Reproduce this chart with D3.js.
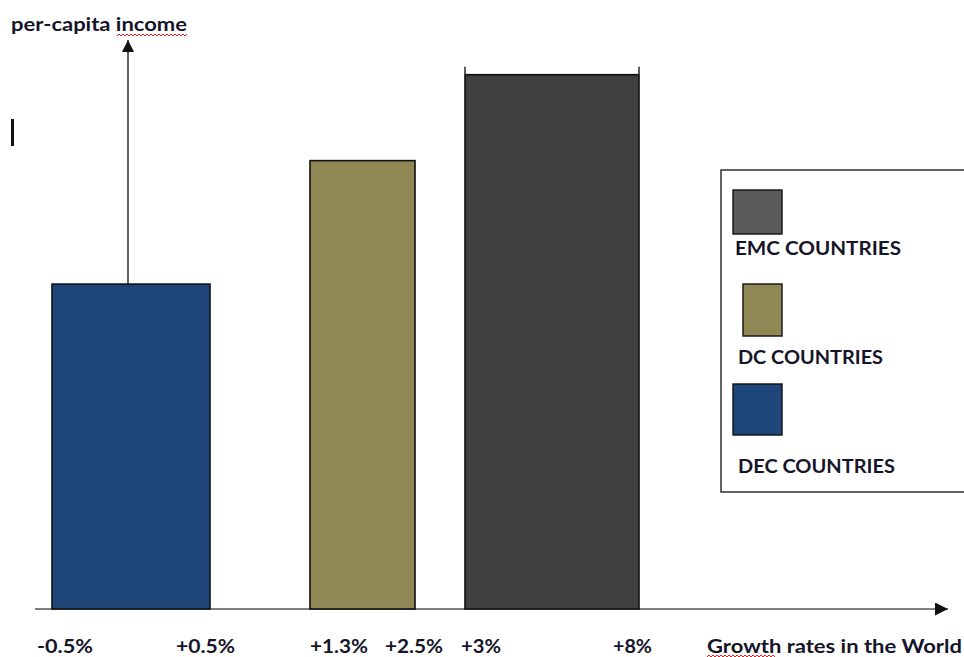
<!DOCTYPE html>
<html><head><meta charset="utf-8">
<script src="https://cdn.jsdelivr.net/npm/d3@7"></script>
<style>html,body{margin:0;padding:0;background:#fff;}svg{display:block;}</style>
</head><body>
<script>
// ---- data ----
const categories = ["DEC COUNTRIES", "DC COUNTRIES", "EMC COUNTRIES"];
const rangeStart = [-0.5, 1.3, 3];
const rangeEnd = [0.5, 2.5, 8];
const incomeValues = [57.1, 78.8, 93.9];
const tickValues = [-0.5, 0.5, 1.3, 2.5, 3, 8];
const tickLabels = ["-0.5%", "+0.5%", "+1.3%", "+2.5%", "+3%", "+8%"];
const yTitle = "per-capita income";
const xTitle = "Growth rates in the World";

(function () {
const W = 964, H = 657;
const barColor = d3.scaleOrdinal().domain(categories).range(["#1F4678", "#8F8754", "#404040"]);
const legendColor = d3.scaleOrdinal().domain(categories).range(["#1F4678", "#8F8754", "#595959"]);
const textColor = "#15152a";
const font = "Lato, 'Open Sans', sans-serif";
const fs = 19.5;
// rendered text widths (layout)
const tickW = [56, 59, 58, 58, 40, 39];

const svg = d3.select("body").append("svg").attr("width", W).attr("height", H);

// piecewise (non-uniform) growth-rate scale as drawn in the source sketch
const x = d3.scaleLinear().domain(tickValues).range([52, 210, 310, 415, 465, 639]);
const xLabel = d3.scaleLinear().domain(tickValues).range([65, 205.5, 339, 414, 481, 632.5]);
const y = d3.scaleLinear().domain([0, 100]).range([609, 40]);

const defs = svg.append("defs");
defs.append("marker").attr("id", "arr").attr("viewBox", "0 0 10 10")
  .attr("refX", 10).attr("refY", 5).attr("markerWidth", 12).attr("markerHeight", 12)
  .attr("markerUnits", "userSpaceOnUse").attr("orient", "auto")
  .append("path").attr("d", "M0,0L10,5L0,10Z").attr("fill", "#111");
defs.append("marker").attr("id", "arrx").attr("viewBox", "0 0 10 10")
  .attr("refX", 10).attr("refY", 5).attr("markerWidth", 13).attr("markerHeight", 13)
  .attr("markerUnits", "userSpaceOnUse").attr("orient", "auto")
  .append("path").attr("d", "M0,0L10,5L0,10Z").attr("fill", "#111");

svg.append("line").attr("x1", 128).attr("x2", 128).attr("y1", y(0)).attr("y2", y(100))
  .attr("stroke", "#222").attr("stroke-width", 1.4).attr("marker-end", "url(#arr)");
svg.append("line").attr("x1", 35).attr("x2", 948).attr("y1", y(0)).attr("y2", y(0))
  .attr("stroke", "#555").attr("stroke-width", 1.6).attr("marker-end", "url(#arrx)");

const bars = categories.map((c, i) => ({c, s: rangeStart[i], e: rangeEnd[i], v: incomeValues[i]}));
svg.selectAll("rect.bar").data(bars).join("rect").attr("class", "bar")
  .attr("x", d => x(d.s)).attr("width", d => x(d.e) - x(d.s))
  .attr("y", d => y(d.v)).attr("height", d => y(0) - y(d.v))
  .attr("fill", d => barColor(d.c)).attr("stroke", "#111").attr("stroke-width", 1.6);

const tallest = bars[2];
[tallest.s, tallest.e].forEach(v => {
  svg.append("line").attr("x1", x(v)).attr("x2", x(v)).attr("y1", y(tallest.v) - 8).attr("y2", y(tallest.v))
    .attr("stroke", "#333").attr("stroke-width", 1.6);
});

function txt(sel) {
  return sel.attr("font-family", font).attr("font-weight", 700).attr("font-size", fs)
    .attr("fill", textColor).attr("lengthAdjust", "spacingAndGlyphs");
}

svg.selectAll("text.tick").data(tickValues).join("text").attr("class", "tick")
  .attr("x", (d, i) => xLabel(d) - tickW[i] / 2).attr("y", 653)
  .attr("textLength", (d, i) => tickW[i])
  .call(txt).text((d, i) => tickLabels[i]);

svg.append("text").attr("x", 707).attr("y", 653).attr("textLength", 255).call(txt).text(xTitle);
svg.append("text").attr("x", 11).attr("y", 31).attr("textLength", 176).call(txt).text(yTitle);

function squiggle(x0, x1, yy) {
  let d = `M${x0},${yy}`; let up = true;
  for (let xx = x0 + 2; xx <= x1; xx += 2) { d += `L${xx},${up ? yy - 2 : yy}`; up = !up; }
  svg.append("path").attr("d", d).attr("fill", "none").attr("stroke", "#e0201c").attr("stroke-width", 1);
}
squiggle(117, 187, 36);
squiggle(707, 775, 657);

svg.append("rect").attr("x", 11).attr("y", 119).attr("width", 3).attr("height", 27).attr("fill", "#111");

svg.append("rect").attr("x", 721).attr("y", 170).attr("width", 260).attr("height", 322)
  .attr("fill", "#fff").attr("stroke", "#222").attr("stroke-width", 1.4);
const lg = [
  {c: "EMC COUNTRIES", sx: 733, sy: 190, sw: 49, sh: 44, ty: 255, tx: 735, w: 166},
  {c: "DC COUNTRIES", sx: 743, sy: 284, sw: 39, sh: 52, ty: 364, tx: 738, w: 145},
  {c: "DEC COUNTRIES", sx: 733, sy: 384, sw: 49, sh: 51, ty: 473, tx: 738, w: 157}
];
svg.selectAll("rect.sw").data(lg).join("rect").attr("class", "sw")
  .attr("x", d => d.sx).attr("y", d => d.sy).attr("width", d => d.sw).attr("height", d => d.sh)
  .attr("fill", d => legendColor(d.c)).attr("stroke", "#111").attr("stroke-width", 1.4);
svg.selectAll("text.lt").data(lg).join("text").attr("class", "lt")
  .attr("x", d => d.tx).attr("y", d => d.ty).attr("textLength", d => d.w)
  .call(txt).text(d => d.c);
})();
</script>
</body></html>
